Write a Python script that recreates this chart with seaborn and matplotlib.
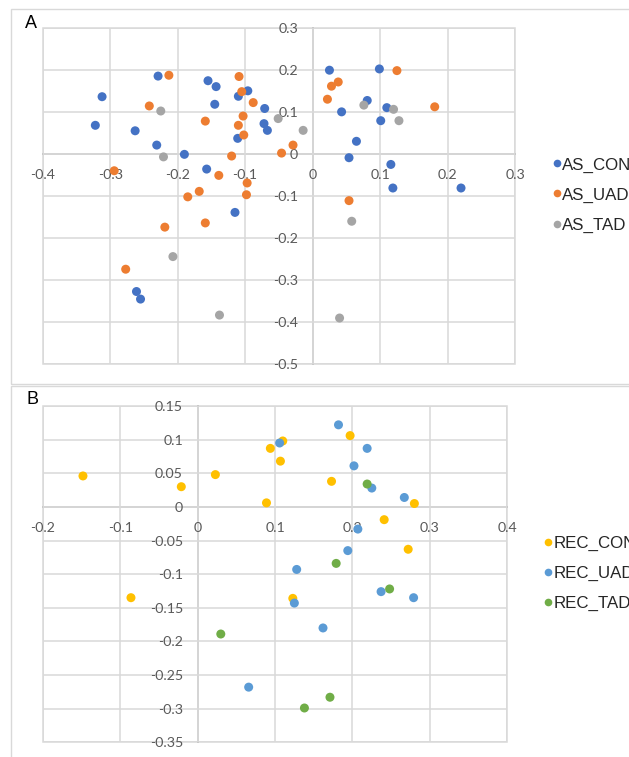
import numpy as np
import pandas as pd
import matplotlib
matplotlib.use("Agg")
import matplotlib.pyplot as plt
from matplotlib.patches import Rectangle
import seaborn as sns

# ---------------- Panel A data ----------------
as_con_x = [-0.229, -0.312, -0.322, -0.263, -0.231, -0.190, -0.155, -0.143, -0.145, -0.096,
            -0.110, -0.071, -0.072, -0.067, -0.111, -0.157, -0.115, -0.261, -0.255,
            0.025, 0.099, 0.081, 0.043, 0.110, 0.101, 0.065, 0.054, 0.116, 0.119, 0.220]
as_con_y = [0.185, 0.136, 0.068, 0.055, 0.021, -0.001, 0.174, 0.160, 0.118, 0.150,
            0.137, 0.108, 0.072, 0.056, 0.037, -0.036, -0.139, -0.327, -0.345,
            0.199, 0.202, 0.127, 0.100, 0.110, 0.079, 0.030, -0.009, -0.025, -0.081, -0.081]
as_uad_x = [-0.213, -0.242, -0.109, -0.105, -0.088, -0.103, -0.159, -0.110, -0.102, -0.029,
            -0.046, -0.120, -0.294, -0.139, -0.097, -0.098, -0.168, -0.185, -0.159, -0.219,
            -0.277, 0.125, 0.038, 0.028, 0.022, 0.181, 0.054]
as_uad_y = [0.187, 0.114, 0.184, 0.148, 0.122, 0.090, 0.078, 0.068, 0.045, 0.021,
            0.002, -0.005, -0.040, -0.051, -0.069, -0.097, -0.089, -0.102, -0.164, -0.174,
            -0.274, 0.198, 0.171, 0.161, 0.130, 0.112, -0.111]
as_tad_x = [-0.225, -0.051, -0.014, -0.221, -0.207, -0.138, 0.076, 0.120, 0.128, 0.058, 0.040]
as_tad_y = [0.102, 0.084, 0.056, -0.007, -0.244, -0.383, 0.116, 0.106, 0.079, -0.160, -0.390]

a_series = ["AS_CON", "AS_UAD", "AS_TAD"]
a_colors = ["#4472C4", "#ED7D31", "#A5A5A5"]
a_xticks = [-0.4, -0.3, -0.2, -0.1, 0, 0.1, 0.2, 0.3]
a_xlabels = ["-0.4", "-0.3", "-0.2", "-0.1", "0", "0.1", "0.2", "0.3"]
a_yticks = [-0.5, -0.4, -0.3, -0.2, -0.1, 0, 0.1, 0.2, 0.3]
a_ylabels = ["-0.5", "-0.4", "-0.3", "-0.2", "-0.1", "0", "0.1", "0.2", "0.3"]

# ---------------- Panel B data ----------------
rec_con_x = [-0.148, -0.021, 0.023, 0.089, 0.094, 0.110, 0.107, 0.197, 0.173, 0.280,
             0.241, 0.272, -0.086, 0.123]
rec_con_y = [0.046, 0.030, 0.048, 0.006, 0.087, 0.098, 0.068, 0.106, 0.038, 0.005,
             -0.019, -0.063, -0.135, -0.136]
rec_uad_x = [0.106, 0.128, 0.182, 0.219, 0.202, 0.225, 0.267, 0.207, 0.194, 0.125,
             0.066, 0.237, 0.279, 0.162]
rec_uad_y = [0.095, -0.093, 0.122, 0.087, 0.061, 0.028, 0.014, -0.033, -0.065, -0.143,
             -0.268, -0.126, -0.135, -0.180]
rec_tad_x = [0.219, 0.179, 0.248, 0.171, 0.138, 0.030]
rec_tad_y = [0.034, -0.084, -0.122, -0.283, -0.299, -0.189]

b_series = ["REC_CON", "REC_UAD", "REC_TAD"]
b_colors = ["#FFC000", "#5B9BD5", "#70AD47"]
b_xticks = [-0.2, -0.1, 0, 0.1, 0.2, 0.3, 0.4]
b_xlabels = ["-0.2", "-0.1", "0", "0.1", "0.2", "0.3", "0.4"]
b_yticks = [-0.35, -0.3, -0.25, -0.2, -0.15, -0.1, -0.05, 0, 0.05, 0.1, 0.15]
b_ylabels = ["-0.35", "-0.3", "-0.25", "-0.2", "-0.15", "-0.1", "-0.05", "0", "0.05", "0.1", "0.15"]


def make_df(names, xs, ys):
    rows = []
    for n, x, y in zip(names, xs, ys):
        rows.append(pd.DataFrame({"x": x, "y": y, "series": n}))
    return pd.concat(rows, ignore_index=True)


df_a = make_df(a_series, [as_con_x, as_uad_x, as_tad_x], [as_con_y, as_uad_y, as_tad_y])
df_b = make_df(b_series, [rec_con_x, rec_uad_x, rec_tad_x], [rec_con_y, rec_uad_y, rec_tad_y])

sns.set_theme(style="white")
plt.rcParams["font.family"] = ["Liberation Sans", "DejaVu Sans"]

W, H = 629, 757
fig = plt.figure(figsize=(W / 100, H / 100), dpi=100)
fig.patch.set_facecolor("white")

grid_c = "#D9D9D9"
axis_c = "#BFBFBF"
tick_c = "#595959"

# chart-area borders
fig.patches.append(Rectangle((11 / W, (H - 384) / H), 1.0, (384 - 9) / H,
                             transform=fig.transFigure, fill=False,
                             edgecolor=grid_c, linewidth=1.0, zorder=0))
fig.patches.append(Rectangle((11 / W, -0.05), 1.0, (H - 386) / H + 0.05,
                             transform=fig.transFigure, fill=False,
                             edgecolor=grid_c, linewidth=1.0, zorder=0))


def style_axes(ax, xt, xl, yt, yl, xlim, ylim):
    ax.set_xlim(*xlim)
    ax.set_ylim(*ylim)
    ax.set_xticks(xt)
    ax.set_xticklabels(xl)
    ax.set_yticks(yt)
    ax.set_yticklabels(yl)
    ax.grid(True, color=grid_c, linewidth=1.1)
    ax.set_axisbelow(True)
    for s in ["top", "right"]:
        ax.spines[s].set_visible(False)
    ax.spines["left"].set_position(("data", 0))
    ax.spines["bottom"].set_position(("data", 0))
    ax.spines["left"].set_color(axis_c)
    ax.spines["bottom"].set_color(axis_c)
    ax.spines["left"].set_linewidth(1.2)
    ax.spines["bottom"].set_linewidth(1.2)
    ax.spines["left"].set_zorder(0.5)
    ax.spines["bottom"].set_zorder(0.5)
    ax.tick_params(axis="both", length=0, labelsize=10.2, labelcolor=tick_c)
    ax.tick_params(axis="y", pad=10.5)
    ax.tick_params(axis="x", pad=11)
    for lab in ax.get_xticklabels() + ax.get_yticklabels():
        lab.set_fontfamily(["Lato", "DejaVu Sans"])
    ax.add_patch(Rectangle((0, 0), 1, 1, transform=ax.transAxes, fill=False,
                           edgecolor=grid_c, linewidth=1.1, clip_on=False, zorder=0.4))
    ax.set_xlabel("")
    ax.set_ylabel("")


# ---------------- Panel A ----------------
axA = fig.add_axes([42.7 / W, (H - 364.3) / H, (515 - 42.7) / W, (364.3 - 27.7) / H])
sns.scatterplot(data=df_a, x="x", y="y", hue="series", hue_order=a_series,
                palette=a_colors, s=42, linewidth=0, ax=axA, zorder=3)
style_axes(axA, a_xticks, a_xlabels, a_yticks, a_ylabels, (-0.4, 0.3), (-0.5, 0.3))
sns.move_legend(axA, loc="center left", bbox_to_anchor=(553 / W, (H - 195) / H),
                bbox_transform=fig.transFigure, frameon=False, title=None,
                fontsize=12.2, handlelength=0.45, handletextpad=0.1,
                labelspacing=0.88, borderpad=0, borderaxespad=0, markerscale=0.85)
fig.text(25 / W, (H - 23) / H, "A", fontsize=13, va="center", ha="left", color="black")

# ---------------- Panel B ----------------
axB = fig.add_axes([42.7 / W, (H - 742.3) / H, (507.3 - 42.7) / W, (742.3 - 406) / H])
sns.scatterplot(data=df_b, x="x", y="y", hue="series", hue_order=b_series,
                palette=b_colors, s=42, linewidth=0, ax=axB, zorder=3)
style_axes(axB, b_xticks, b_xlabels, b_yticks, b_ylabels, (-0.2, 0.4), (-0.35, 0.15))
sns.move_legend(axB, loc="center left", bbox_to_anchor=(544.3 / W, (H - 573.3) / H),
                bbox_transform=fig.transFigure, frameon=False, title=None,
                fontsize=12.2, handlelength=0.45, handletextpad=0.1,
                labelspacing=0.88, borderpad=0, borderaxespad=0, markerscale=0.85)
fig.text(26.5 / W, (H - 399) / H, "B", fontsize=13, va="center", ha="left", color="black")

fig.savefig("out.png", dpi=100)
